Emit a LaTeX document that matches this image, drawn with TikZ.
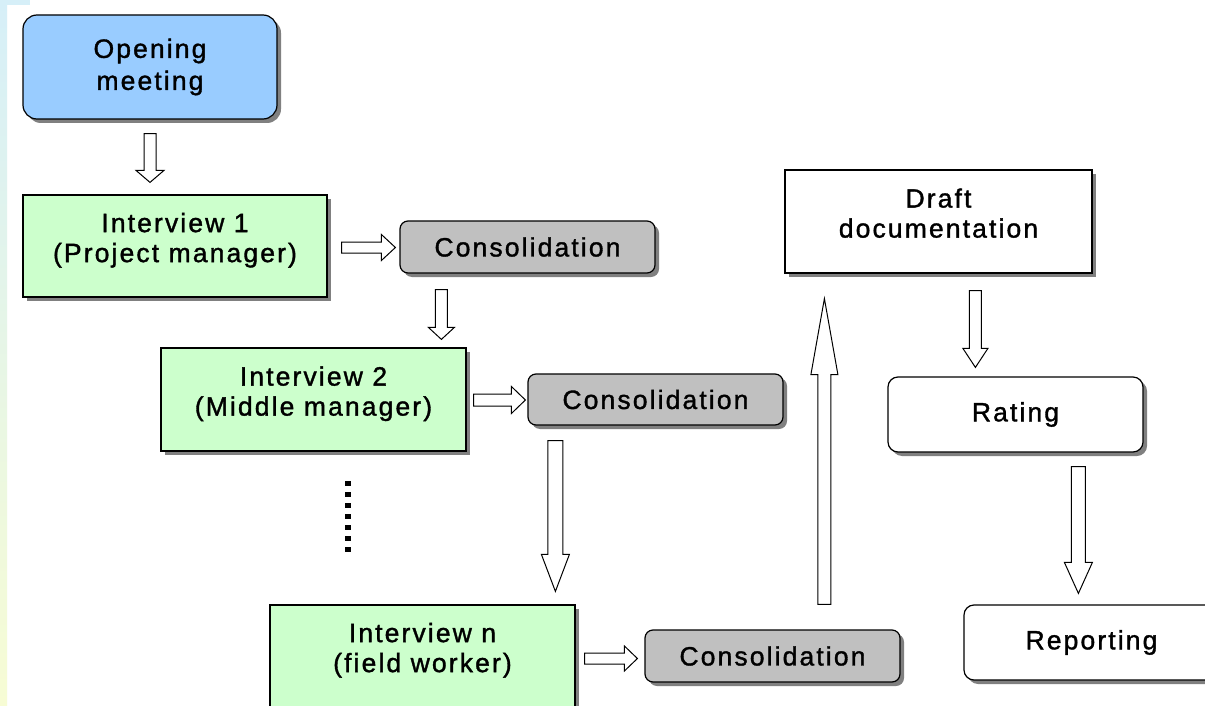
\documentclass[tikz,border=0pt]{standalone}
\usepackage{fontspec}
\setmainfont{Liberation Sans}[LetterSpace=8, FakeBold=1.3]
\usetikzlibrary{calc}

\definecolor{meetblue}{HTML}{99CCFF}
\definecolor{intgreen}{HTML}{CCFFCC}
\definecolor{consgray}{HTML}{C0C0C0}
\definecolor{shadowgray}{HTML}{808080}
\definecolor{stripblue}{HTML}{D6EFF8}
\definecolor{stripgreen}{HTML}{E2F5EA}
\definecolor{stripyellow}{HTML}{F7FCD4}

\tikzset{
  box/.style={draw=black, line width=1.2pt, align=center, inner sep=0pt,
    font=\fontsize{26.5}{30}\selectfont, text=black,
    preaction={draw=none, fill=shadowgray, transform canvas={shift={(4pt,-4pt)}}}},
  meeting/.style={box, fill=meetblue, rounded corners=14pt,
    font=\fontsize{26.5}{32}\selectfont},
  twoline/.style={text depth=17pt},
  interview/.style={box, twoline, fill=intgreen},
  consol/.style={box, fill=consgray, rounded corners=8pt},
  plainbox/.style={box, twoline, fill=white},
  roundbox/.style={box, fill=white, rounded corners=10pt},
  blockarrow/.style={draw=black, line width=1pt, fill=white, line join=miter},
  ellipsis/.style={line width=6pt, dash pattern=on 5pt off 6pt},
}

% Hollow block arrows: #1 start point, #2 end point (only one axis used),
% #3 shaft half width, #4 head half width, #5 head length
\newcommand\arrdown[5]{%
  \path[blockarrow] let \p1=(#1), \p2=(#2) in
    (\x1-#3,\y1) -- (\x1+#3,\y1) -- (\x1+#3,\y2+#5) -- (\x1+#4,\y2+#5)
    -- (\x1,\y2) -- (\x1-#4,\y2+#5) -- (\x1-#3,\y2+#5) -- cycle;}
\newcommand\arrup[5]{%
  \path[blockarrow] let \p1=(#1), \p2=(#2) in
    (\x1-#3,\y1) -- (\x1+#3,\y1) -- (\x1+#3,\y2-#5) -- (\x1+#4,\y2-#5)
    -- (\x1,\y2) -- (\x1-#4,\y2-#5) -- (\x1-#3,\y2-#5) -- cycle;}
\newcommand\arrright[5]{%
  \path[blockarrow] let \p1=(#1), \p2=(#2) in
    (\x1,\y1-#3) -- (\x2-#5,\y1-#3) -- (\x2-#5,\y1-#4) -- (\x2,\y1)
    -- (\x2-#5,\y1+#4) -- (\x2-#5,\y1+#3) -- (\x1,\y1+#3) -- cycle;}

\begin{document}
\begin{tikzpicture}[x=1pt, y=-1pt]
  \useasboundingbox (0,0) rectangle (1205,706);
  \fill[white] (0,0) rectangle (1205,706);

  % pale colour strip on the left edge
  \shade[top color=stripblue, middle color=stripgreen, bottom color=stripyellow]
    (0,0) rectangle (7,706);
  \fill[stripblue] (0,0) rectangle (30,5);

  % boxes
  \node[meeting, minimum width=254pt, minimum height=104pt] (open) at (150,67)
    {Opening\\meeting};
  \node[interview, minimum width=304pt, minimum height=102pt] (int1) at (175,246)
    {Interview 1\\(Project manager)};
  \node[consol, minimum width=255pt, minimum height=52pt] (con1) at (527.5,247)
    {Consolidation};
  \node[interview, minimum width=305pt, minimum height=103pt] (int2) at (313.5,399.5)
    {Interview 2\\(Middle manager)};
  \node[consol, minimum width=255pt, minimum height=51pt] (con2) at (655.5,399.5)
    {Consolidation};
  \node[interview, minimum width=305pt, minimum height=102pt] (intn) at (422.5,656)
    {Interview n\\(field worker)};
  \node[consol, minimum width=255pt, minimum height=52pt] (con3) at (772.5,656)
    {Consolidation};
  \node[plainbox, minimum width=307pt, minimum height=103pt] (draft) at (938.5,221.5)
    {Draft\\documentation};
  \node[roundbox, minimum width=255pt, minimum height=75pt] (rating) at (1015.5,414.5)
    {Rating};
  \node[roundbox, minimum width=255pt, minimum height=75pt] (report) at (1091.5,642.5)
    {Reporting};

  % flow arrows
  \arrdown{$(open.south)+(0,14)$}{$(int1.north)+(0,-12)$}{6pt}{14pt}{12pt}
  \arrright{$(int1.east)+(14,1.5)$}{$(con1.west)+(-4,0)$}{5.5pt}{13pt}{14pt}
  \arrdown{$(con1.south west)+(42,16)$}{$(int2.north)+(0,-8)$}{6pt}{13pt}{12pt}
  \arrright{$(int2.east)+(7,0.5)$}{$(con2.west)+(-2,0)$}{6pt}{13.5pt}{14pt}
  \arrdown{$(con2.south west)+(28,15)$}{$(intn.north)+(0,-13)$}{7.5pt}{14pt}{37pt}
  \arrright{$(intn.east)+(9,2.5)$}{$(con3.west)+(-7,0)$}{5.5pt}{12.5pt}{13pt}
  \arrup{$(con3.north west)+(180,-25)$}{$(draft.south)+(0,25)$}{6.5pt}{13.5pt}{76pt}
  \arrdown{$(draft.south west)+(191,17)$}{$(rating.north)+(0,-9)$}{6pt}{12.5pt}{19pt}
  \arrdown{$(rating.south west)+(191,14)$}{$(report.north)+(0,-11)$}{7pt}{14pt}{31pt}

  % ellipsis between the second and the last interview
  \coordinate (dotstop) at (348,481);
  \coordinate (dotsbot) at (348,552);
  \draw[ellipsis] (dotstop) -- (dotsbot);
\end{tikzpicture}
\end{document}
